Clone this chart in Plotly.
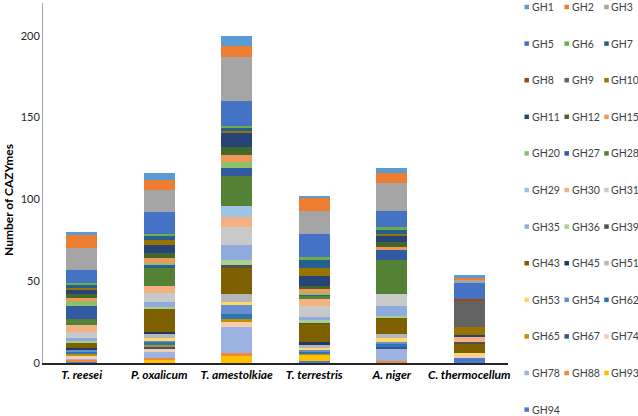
import plotly.graph_objects as go

# ---------------- data ----------------
species = ["T. reesei", "P. oxalicum", "T. amestolkiae", "T. terrestris", "A. niger", "C. thermocellum"]

GH1 = [2, 4, 6, 1, 3, 2]
GH2 = [8, 6, 7, 8, 6, 1]
GH3 = [13, 14, 27, 14, 17, 2]
GH5 = [8, 13, 15, 14, 10, 10]
GH6 = [1, 1, 1, 2, 2, 0]
GH7 = [2, 3, 2, 5, 2, 0]
GH8 = [0, 0, 0, 0, 0, 1]
GH9 = [0, 0, 0, 0, 0, 16]
GH10 = [1, 3, 1, 5, 1, 5]
GH11 = [3, 5, 9, 6, 4, 1]
GH12 = [2, 3, 5, 2, 3, 0]
GH15 = [2, 3, 4, 2, 2, 0]
GH20 = [3, 1, 4, 1, 0, 0]
GH27 = [8, 2, 5, 1, 6, 0]
GH28 = [4, 11, 18, 2, 21, 0]
GH29 = [0, 0, 7, 0, 0, 0]
GH30 = [4, 4, 6, 4, 0, 3]
GH31 = [4, 6, 11, 7, 7, 0]
GH35 = [1, 3, 9, 2, 6, 0]
GH36 = [2, 1, 3, 1, 1, 0]
GH39 = [0, 0, 2, 1, 0, 1]
GH43 = [3, 14, 16, 11, 10, 6]
GH45 = [1, 1, 0, 2, 0, 0]
GH51 = [0, 3, 5, 2, 3, 0]
GH53 = [0, 1, 1, 1, 2, 1]
GH54 = [1, 1, 6, 1, 1, 0]
GH62 = [1, 2, 3, 1, 2, 0]
GH65 = [2, 1, 2, 1, 0, 0]
GH67 = [0, 1, 0, 0, 1, 0]
GH74 = [1, 2, 3, 0, 0, 2]
GH78 = [1, 4, 16, 0, 8, 0]
GH88 = [1, 1, 2, 0, 1, 0]
GH93 = [0, 2, 4, 4, 0, 0]
GH94 = [1, 0, 0, 1, 0, 3]

families = ["GH1", "GH2", "GH3", "GH5", "GH6", "GH7", "GH8", "GH9", "GH10", "GH11",
            "GH12", "GH15", "GH20", "GH27", "GH28", "GH29", "GH30", "GH31", "GH35", "GH36",
            "GH39", "GH43", "GH45", "GH51", "GH53", "GH54", "GH62", "GH65", "GH67", "GH74",
            "GH78", "GH88", "GH93", "GH94"]
values = [GH1, GH2, GH3, GH5, GH6, GH7, GH8, GH9, GH10, GH11,
          GH12, GH15, GH20, GH27, GH28, GH29, GH30, GH31, GH35, GH36,
          GH39, GH43, GH45, GH51, GH53, GH54, GH62, GH65, GH67, GH74,
          GH78, GH88, GH93, GH94]
colors = ["#5B9BD5", "#ED7D31", "#A5A5A5", "#4472C4", "#70AD47", "#255E91", "#9E480E", "#636363", "#997300", "#264478",
          "#43682B", "#F1975A", "#8CC168", "#335AA1", "#548235", "#9DC3E6", "#F4B183", "#C9C9C9", "#8FAADC", "#A9D18E",
          "#505050", "#7F6000", "#203864", "#B7B7B7", "#FFD966", "#698ED0", "#2E75B6", "#BF9000", "#2F5597", "#F8CBAD",
          "#9DB4E2", "#F1883F", "#FFC000", "#4A7BCF"]

y_ticks = [0, 50, 100, 150, 200]
y_title = "Number of CAZYmes"

# ---------------- layout geometry ----------------
W, H = 638, 416
ML, MR, MT, MB = 43, 130, 3, 53
PW, PH = W - ML - MR, H - MT - MB


def px_x(px):
    return (px - ML) / PW


def px_y(py):
    return (H - MB - py) / PH


FONT = "Lato"

fig = go.Figure()
# stack: GH94 at the bottom, GH1 on top
for name, vals, col in reversed(list(zip(families, values, colors))):
    fig.add_trace(go.Bar(x=species, y=vals, name=name,
                         marker=dict(color=col, line=dict(width=0)),
                         showlegend=False))

fig.update_layout(
    barmode="stack", bargap=0.6,
    width=W, height=H,
    margin=dict(l=ML, r=MR, t=MT, b=MB, pad=0),
    plot_bgcolor="white", paper_bgcolor="white",
    font=dict(family=FONT, size=11, color="#404040"),
)
fig.update_xaxes(showline=True, linecolor="#262626", linewidth=1.5, ticks="",
                 showgrid=False,
                 tickfont=dict(family=FONT, size=12, color="#000000", weight="bold", style="italic"))
fig.update_yaxes(range=[0, 220], tickvals=y_ticks, showline=True, linecolor="#A6A6A6", linewidth=1,
                 showgrid=False, zeroline=False, ticks="",
                 tickfont=dict(family=FONT, size=11, color="#262626"))

# y-axis title
fig.add_annotation(text="<b>" + y_title + "</b>", textangle=-90, xref="paper", yref="paper",
                   x=px_x(8), y=px_y(200), xanchor="center", yanchor="middle", showarrow=False,
                   font=dict(family=FONT, size=12, color="#000000"))

# legend (3 columns, row-major)
col_sq = [526.7, 566.7, 606.5]
col_tx = [529.5, 569.5, 609]
row0, row_step, sq = 7, 36.6, 4.5
for i, (name, col) in enumerate(zip(families, colors)):
    r, c = divmod(i, 3)
    cy = row0 + r * row_step
    cx = col_sq[c]
    fig.add_shape(type="rect", xref="paper", yref="paper",
                  x0=px_x(cx - sq / 2), x1=px_x(cx + sq / 2),
                  y0=px_y(cy + sq / 2), y1=px_y(cy - sq / 2),
                  fillcolor=col, line=dict(width=0))
    fig.add_annotation(text=name, xref="paper", yref="paper",
                       x=px_x(col_tx[c]), y=px_y(cy), xanchor="left", yanchor="middle",
                       showarrow=False, font=dict(family=FONT, size=10.5, color="#404040"))

fig.write_html("out.html", config={"displayModeBar": False},
               post_script="document.body.style.margin='0';document.body.style.overflow='hidden';")
